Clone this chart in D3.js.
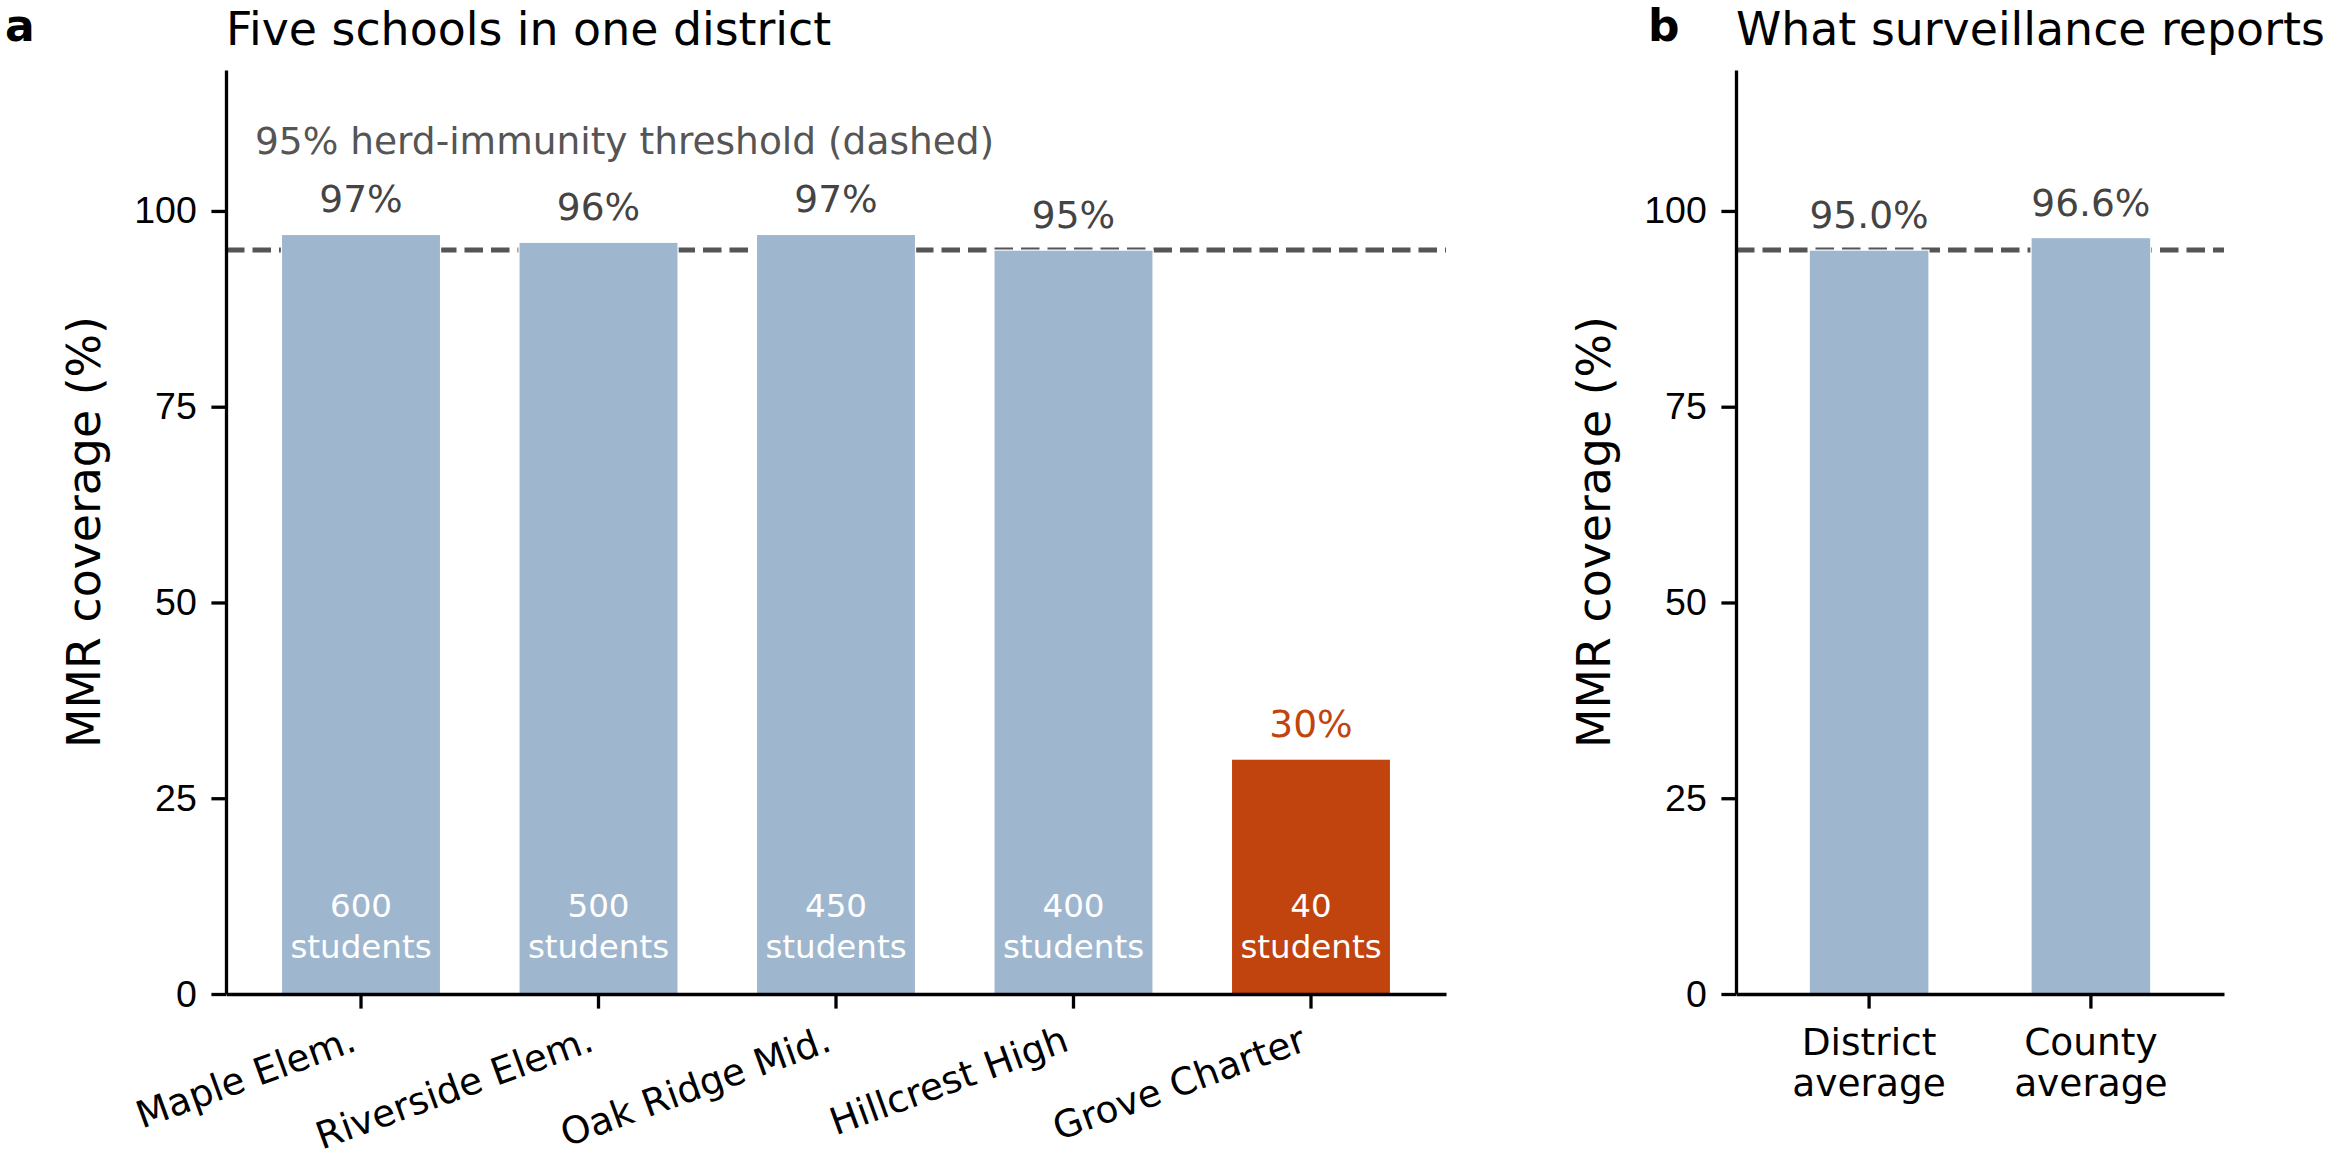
<!DOCTYPE html>
<html>
<head>
<meta charset="utf-8">
<script src="https://cdn.jsdelivr.net/npm/d3@7"></script>
<style>
  body { margin: 0; background: #fff; }
  svg { display: block; font-family: "DejaVu Sans", sans-serif; }
</style>
</head>
<body>
<div id="chart"></div>
<script>
// data
const schools = ["Maple Elem.", "Riverside Elem.", "Oak Ridge Mid.", "Hillcrest High", "Grove Charter"];
const schoolCoverage = [97, 96, 97, 95, 30];
const schoolStudents = [600, 500, 450, 400, 40];
const reportGroups = ["District average", "County average"];
const reportCoverage = [95.0, 96.6];
const yTicks = [0, 25, 50, 75, 100];
const threshold = 95;

const width = 2329,
  height = 1169;

const blue = "#9fb7ce",
  orange = "#c1440e";

// px sizes (matplotlib at 300 dpi)
const fsTick = 37.5, fsTitle = 45.8, fsSmall = 32.5;
const tickLen = 14.6, tickPad = 14.6;

const svg = d3.select("#chart")
  .append("svg")
  .attr("width", width)
  .attr("height", height);

const y = d3.scaleLinear()
  .domain([0, 118])
  .range([994, 70]);

const schoolRows = schools.map((s, i) => ({name: s, v: schoolCoverage[i], n: schoolStudents[i]}));
const reportRows = reportGroups.map((s, i) => ({name: s, v: reportCoverage[i]}));

// panel a
const xa = d3.scaleBand()
  .domain(schools)
  .range([226, 1446])
  .paddingInner(0.33)
  .paddingOuter(0.2335);

// panel b
const xb = d3.scaleBand()
  .domain(reportGroups)
  .range([1736, 2224])
  .paddingInner(0.46)
  .paddingOuter(0.33);

function drawPanel(x, rows, letter, letterX, title, decimals) {
  const g = svg.append("g");
  const left = x.range()[0], right = x.range()[1];

  // threshold line
  g.append("line")
    .attr("x1", left).attr("x2", right)
    .attr("y1", y(threshold)).attr("y2", y(threshold))
    .attr("stroke", "#555")
    .attr("stroke-width", 5)
    .attr("stroke-dasharray", "18.5,8");

  g.selectAll("rect")
    .data(rows)
    .join("rect")
    .attr("x", d => x(d.name))
    .attr("width", x.bandwidth())
    .attr("y", d => y(d.v))
    .attr("height", d => y(0) - y(d.v))
    .attr("fill", d => d.v < threshold ? orange : blue)
    .attr("stroke", "#fff")
    .attr("stroke-width", 1.2);

  // value labels
  g.selectAll("text.val")
    .data(rows)
    .join("text")
    .attr("class", "val")
    .attr("x", d => x(d.name) + x.bandwidth() / 2)
    .attr("y", d => y(d.v) - 22)
    .attr("text-anchor", "middle")
    .attr("font-size", fsTick)
    .attr("fill", d => d.v < threshold ? orange : "#444")
    .text(d => d.v.toFixed(decimals) + "%");

  // y axis
  g.append("g")
    .attr("transform", `translate(${left},0)`)
    .call(d3.axisLeft(y).tickValues(yTicks).tickSize(tickLen).tickSizeOuter(0).tickPadding(tickPad))
    .call(a => a.selectAll("path, line").attr("stroke", "#000").attr("stroke-width", 3.3))
    .call(a => a.selectAll("text").attr("font-size", fsTick).attr("font-family", null).attr("fill", "#000"));

  // x axis
  const xg = g.append("g")
    .attr("transform", `translate(0,${y(0)})`)
    .call(d3.axisBottom(x).tickSize(tickLen).tickSizeOuter(0).tickPadding(tickPad))
    .call(a => a.selectAll("path, line").attr("stroke", "#000").attr("stroke-width", 3.3))
    .call(a => a.selectAll("text").remove())
    .attr("font-family", null)
    .attr("fill", "#000");

  // y label
  g.append("text")
    .attr("transform", `translate(${left - 126},${(y.range()[0] + y.range()[1]) / 2}) rotate(-90)`)
    .attr("text-anchor", "middle")
    .attr("font-size", fsTitle)
    .text("MMR coverage (%)");

  // title + panel letter
  g.append("text")
    .attr("x", left).attr("y", 45)
    .attr("font-size", fsTitle)
    .text(title);
  g.append("text")
    .attr("x", letterX).attr("y", 41)
    .attr("font-size", 44)
    .attr("font-weight", "bold")
    .text(letter);

  return {g, xg};
}

const pa = drawPanel(xa, schoolRows, "a", 5, "Five schools in one district", 0);
const pb = drawPanel(xb, reportRows, "b", 1648, "What surveillance reports", 1);

// student counts inside bars
const cnt = pa.g.selectAll("text.cnt")
  .data(schoolRows)
  .join("text")
  .attr("class", "cnt")
  .attr("text-anchor", "middle")
  .attr("font-size", fsSmall)
  .attr("fill", "#fff");
cnt.append("tspan")
  .attr("x", d => xa(d.name) + xa.bandwidth() / 2)
  .attr("y", y(0) - 77)
  .text(d => d.n);
cnt.append("tspan")
  .attr("x", d => xa(d.name) + xa.bandwidth() / 2)
  .attr("y", y(0) - 36)
  .text("students");

// threshold note
pa.g.append("text")
  .attr("x", 255).attr("y", 154)
  .attr("font-size", fsTick)
  .attr("fill", "#555")
  .text("95% herd-immunity threshold (dashed)");

// rotated school names
const rot = 20, asc = 0.76 * fsTick, desc = 0.22 * fsTick;
const rad = rot * Math.PI / 180;
pa.xg.selectAll("text.lab")
  .data(schools)
  .join("text")
  .attr("class", "lab")
  .attr("text-anchor", "end")
  .attr("font-size", fsTick)
  .attr("fill", "#000")
  .attr("transform", d => {
    const cx = xa(d) + xa.bandwidth() / 2 - desc * Math.sin(rad);
    const cy = tickLen + tickPad + asc * Math.cos(rad);
    return `translate(${cx},${cy}) rotate(${-rot})`;
  })
  .text(d => d);

// two-line group names
const gl = pb.xg.selectAll("text.lab")
  .data(reportGroups)
  .join("text")
  .attr("class", "lab")
  .attr("text-anchor", "middle")
  .attr("font-size", fsTick)
  .attr("fill", "#000");
gl.append("tspan")
  .attr("x", d => xb(d) + xb.bandwidth() / 2)
  .attr("y", 61)
  .text(d => d.split(" ")[0]);
gl.append("tspan")
  .attr("x", d => xb(d) + xb.bandwidth() / 2)
  .attr("y", 102)
  .text(d => d.split(" ")[1]);
</script>
</body>
</html>
